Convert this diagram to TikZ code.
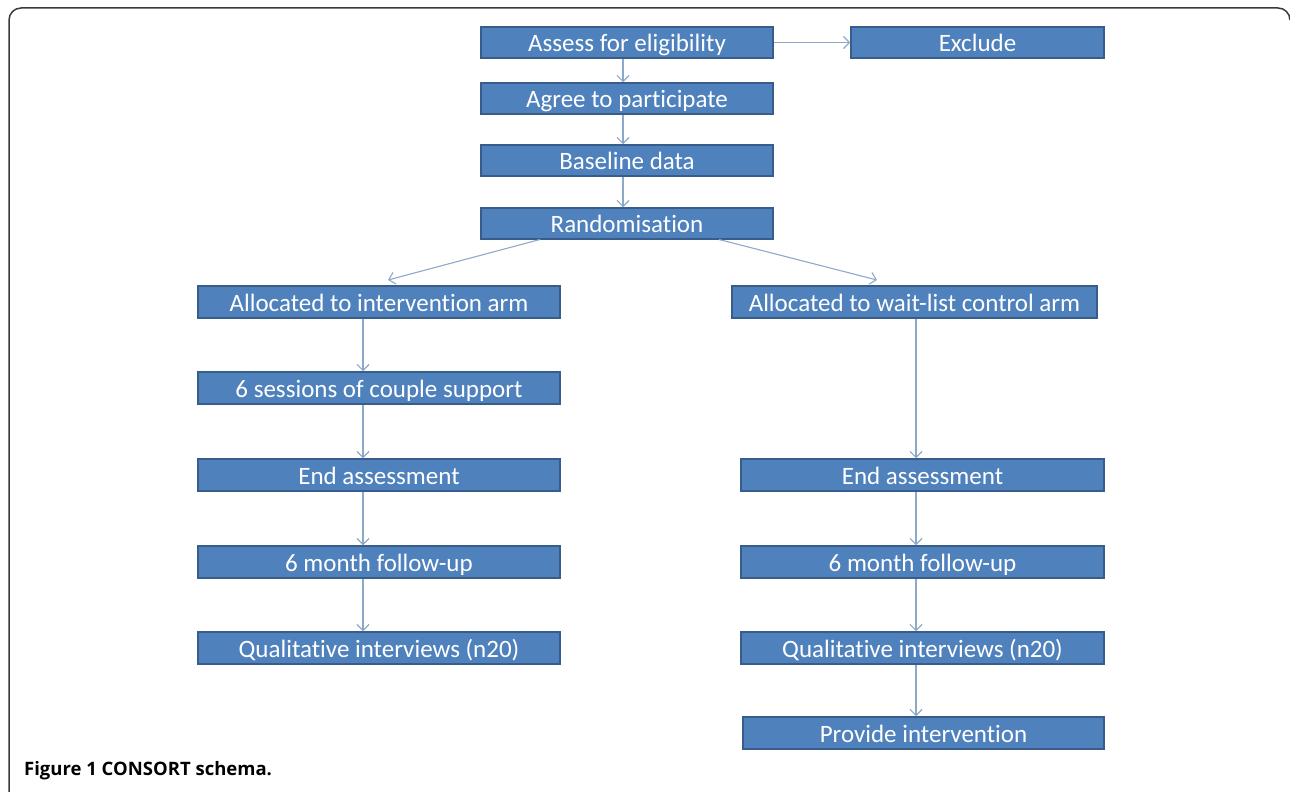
\documentclass[tikz,border=0pt]{standalone}
\usepackage{fontspec}
\setmainfont{Carlito}[Ligatures=NoCommon]
\newfontfamily\capfont{Open Sans}
\usetikzlibrary{arrows.meta}
\definecolor{boxfill}{HTML}{4F81BD}
\definecolor{boxline}{HTML}{385D8A}
\definecolor{arrline}{HTML}{8EA9C8}
\definecolor{frameline}{HTML}{3A3A3A}
\tikzset{
  stepbox/.style={draw=boxline, line width=1.5pt, fill=boxfill, text=white,
    inner sep=0pt, font=\fontsize{25pt}{28pt}\selectfont, minimum height=31pt,
    text height=21pt, text depth=3pt},
  arr/.style={draw=arrline, line width=1.1pt,
    -{Straight Barb[length=6pt,width=12pt,line width=1.1pt]}},
}
\begin{document}
\begin{tikzpicture}[x=1pt,y=-1pt]
\useasboundingbox (0,0) rectangle (1290,792);
% frame
\draw[frameline, line width=1.5pt] (9,792) -- (9,20) arc[start angle=180,end angle=270,radius=12] -- (1278,8) arc[start angle=270,end angle=360,radius=12];
% nodes
\node[stepbox, minimum width=292pt] (assess) at (627,42.5) {Assess for eligibility};
\node[stepbox, minimum width=253pt] (exclude) at (977.5,42.5) {Exclude};
\node[stepbox, minimum width=292pt] (agree) at (627,98.5) {Agree to participate};
\node[stepbox, minimum width=292pt] (base) at (627,160.5) {Baseline data};
\node[stepbox, minimum width=292pt] (rand) at (627,223.5) {Randomisation};
\node[stepbox, minimum width=362pt, minimum height=32pt] (allocL) at (379,302) {Allocated to intervention arm};
\node[stepbox, minimum width=365pt, minimum height=32pt] (allocR) at (914.5,302) {Allocated to wait-list control arm};
\node[stepbox, minimum width=362pt, minimum height=32pt] (sess) at (379,388) {6 sessions of couple support};
\node[stepbox, minimum width=362pt, minimum height=32pt] (endL) at (379,475) {End assessment};
\node[stepbox, minimum width=363pt, minimum height=32pt] (endR) at (922.5,475) {End assessment};
\node[stepbox, minimum width=362pt, minimum height=32pt] (folL) at (379,562) {6 month follow-up};
\node[stepbox, minimum width=363pt, minimum height=32pt] (folR) at (922.5,562) {6 month follow-up};
\node[stepbox, minimum width=362pt, minimum height=32pt] (qualL) at (379,648) {Qualitative interviews (n20)};
\node[stepbox, minimum width=363pt, minimum height=32pt] (qualR) at (922.5,648) {Qualitative interviews (n20)};
\node[stepbox, minimum width=361pt, minimum height=32pt] (prov) at (923.5,733) {Provide intervention};
% caption
\node[anchor=base west, inner sep=0pt, font=\capfont\bfseries\fontsize{18.5pt}{22pt}\selectfont] (cap) at (24,775) {Figure 1 CONSORT schema.};
% guide coordinates
\coordinate (cx) at (623,0);
\coordinate (lx) at (363,0);
\coordinate (rx) at (916,0);
\coordinate (dl) at (540,239.5);
\coordinate (tl) at (388,280);
\coordinate (dr) at (719,239.5);
\coordinate (tr) at (877,280);
% connectors
\draw[arr] (assess.east) -- (exclude.west);
\draw[arr] (assess.south -| cx) -- (agree.north -| cx);
\draw[arr] (agree.south -| cx) -- (base.north -| cx);
\draw[arr] (base.south -| cx) -- (rand.north -| cx);
\draw[arr] (dl) -- (tl);
\draw[arr] (dr) -- (tr);
\draw[arr] (allocL.south -| lx) -- (sess.north -| lx);
\draw[arr] (sess.south -| lx) -- (endL.north -| lx);
\draw[arr] (endL.south -| lx) -- (folL.north -| lx);
\draw[arr] (folL.south -| lx) -- (qualL.north -| lx);
\draw[arr] (allocR.south -| rx) -- (endR.north -| rx);
\draw[arr] (endR.south -| rx) -- (folR.north -| rx);
\draw[arr] (folR.south -| rx) -- (qualR.north -| rx);
\draw[arr] (qualR.south -| rx) -- (prov.north -| rx);
\end{tikzpicture}
\end{document}
